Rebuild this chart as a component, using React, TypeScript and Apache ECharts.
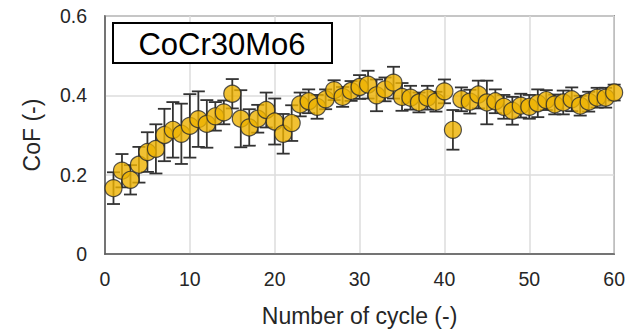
import React, { useEffect, useRef } from "react";
import * as echarts from "echarts";

const cycles = [
  1, 2, 3, 4, 5, 6, 7, 8, 9, 10, 11, 12, 13, 14, 15, 16, 17, 18, 19, 20,
  21, 22, 23, 24, 25, 26, 27, 28, 29, 30, 31, 32, 33, 34, 35, 36, 37, 38, 39, 40,
  41, 42, 43, 44, 45, 46, 47, 48, 49, 50, 51, 52, 53, 54, 55, 56, 57, 58, 59, 60,
];

const cofMean = [
  0.166, 0.21, 0.187, 0.225, 0.257, 0.265, 0.3, 0.313, 0.303, 0.323,
  0.34, 0.328, 0.347, 0.357, 0.404, 0.341, 0.319, 0.341, 0.363, 0.334,
  0.303, 0.33, 0.377, 0.385, 0.371, 0.39, 0.413, 0.396, 0.411, 0.421,
  0.427, 0.4, 0.415, 0.432, 0.396, 0.394, 0.382, 0.394, 0.384, 0.41,
  0.313, 0.39, 0.384, 0.402, 0.382, 0.385, 0.371, 0.361, 0.374, 0.371,
  0.38, 0.388, 0.377, 0.382, 0.39, 0.374, 0.384, 0.394, 0.394, 0.407,
];

const cofError = [
  0.04, 0.042, 0.037, 0.045, 0.05, 0.062, 0.066, 0.07, 0.076, 0.08,
  0.07, 0.06, 0.036, 0.03, 0.037, 0.072, 0.046, 0.035, 0.044, 0.058,
  0.05, 0.045, 0.03, 0.03, 0.03, 0.025, 0.025, 0.025, 0.025, 0.03,
  0.035, 0.04, 0.03, 0.04, 0.035, 0.03, 0.025, 0.03, 0.025, 0.03,
  0.05, 0.03, 0.03, 0.035, 0.055, 0.03, 0.03, 0.035, 0.03, 0.03,
  0.035, 0.025, 0.025, 0.03, 0.03, 0.025, 0.025, 0.025, 0.025, 0.02,
];

const xTicks = [0, 10, 20, 30, 40, 50, 60];
const yTicks = [0, 0.2, 0.4, 0.6];
const titleText = "CoCr30Mo6";
const xName = "Number of cycle (-)";
const yName = "CoF (-)";

const FONT = "'Liberation Sans', Arial, sans-serif";

export default function App() {
  const ref = useRef<HTMLDivElement>(null);

  useEffect(() => {
    if (!ref.current) return;
    const chart = echarts.init(ref.current, null, { renderer: "svg" });

    const errData = cycles.map((c, i) => [c, cofMean[i] - cofError[i], cofMean[i] + cofError[i]]);
    const ptData = cycles.map((c, i) => [c, cofMean[i]]);

    const option: any = {
      animation: false,
      backgroundColor: "#ffffff",
      grid: {
        left: 105,
        right: 12,
        top: 16,
        bottom: 75,
        show: true,
        borderColor: "#595959",
        borderWidth: 1.5,
        backgroundColor: "transparent",
      },
      xAxis: {
        type: "value",
        min: xTicks[0],
        max: xTicks[xTicks.length - 1],
        interval: 10,
        name: xName,
        nameLocation: "middle",
        nameGap: 50,
        nameTextStyle: { fontFamily: FONT, fontSize: 23, color: "#262626" },
        axisLine: { show: true, lineStyle: { color: "#595959", width: 1.5 } },
        axisTick: { show: false },
        axisLabel: { fontFamily: FONT, fontSize: 19.5, color: "#262626", margin: 15 },
        splitLine: { show: true, lineStyle: { color: "#dcdcdc", width: 1.5 } },
      },
      yAxis: {
        type: "value",
        min: yTicks[0],
        max: yTicks[yTicks.length - 1],
        interval: 0.2,
        name: yName,
        nameLocation: "middle",
        nameGap: 62,
        nameRotate: 90,
        nameTextStyle: { fontFamily: FONT, fontSize: 23, color: "#262626" },
        axisLine: { show: true, lineStyle: { color: "#595959", width: 1.5 } },
        axisTick: { show: false },
        axisLabel: {
          fontFamily: FONT,
          fontSize: 19.5,
          color: "#262626",
          margin: 18,
          formatter: (v: number) => (v === 0 ? "0" : v.toFixed(1)),
        },
        splitLine: { show: true, lineStyle: { color: "#dcdcdc", width: 1.5 } },
      },
      series: [
        {
          type: "custom",
          z: 2,
          data: errData,
          encode: { x: 0, y: [1, 2] },
          renderItem: (params: any, api: any) => {
            const x = api.value(0);
            const lo = api.value(1);
            const hi = api.value(2);
            const top = api.coord([x, hi]);
            const bot = api.coord([x, lo]);
            const half = 6.5;
            const style = { stroke: "#333333", lineWidth: 1.8 };
            return {
              type: "group",
              children: [
                { type: "line", shape: { x1: top[0], y1: top[1], x2: bot[0], y2: bot[1] }, style },
                { type: "line", shape: { x1: top[0] - half, y1: top[1], x2: top[0] + half, y2: top[1] }, style },
                { type: "line", shape: { x1: bot[0] - half, y1: bot[1], x2: bot[0] + half, y2: bot[1] }, style },
              ],
            };
          },
        },
        {
          type: "scatter",
          z: 3,
          data: ptData,
          symbol: "circle",
          symbolSize: 17,
          itemStyle: { color: "#EDB100", borderColor: "#2b2b2b", borderWidth: 1.2 },
        },
      ],
      graphic: [
        {
          type: "rect",
          z: 100,
          shape: { x: 113, y: 23, width: 219, height: 40 },
          style: { fill: "#ffffff", stroke: "#000000", lineWidth: 2 },
        },
        {
          type: "text",
          z: 101,
          x: 222,
          y: 44,
          style: {
            text: titleText,
            fontFamily: FONT,
            fontSize: 31,
            fill: "#000000",
            align: "center",
            verticalAlign: "middle",
          },
        },
      ],
    };

    chart.setOption(option);
    return () => chart.dispose();
  }, []);

  return (
    <div
      ref={ref}
      style={{ position: "fixed", left: 0, top: 0, width: 628, height: 332 }}
    />
  );
}
